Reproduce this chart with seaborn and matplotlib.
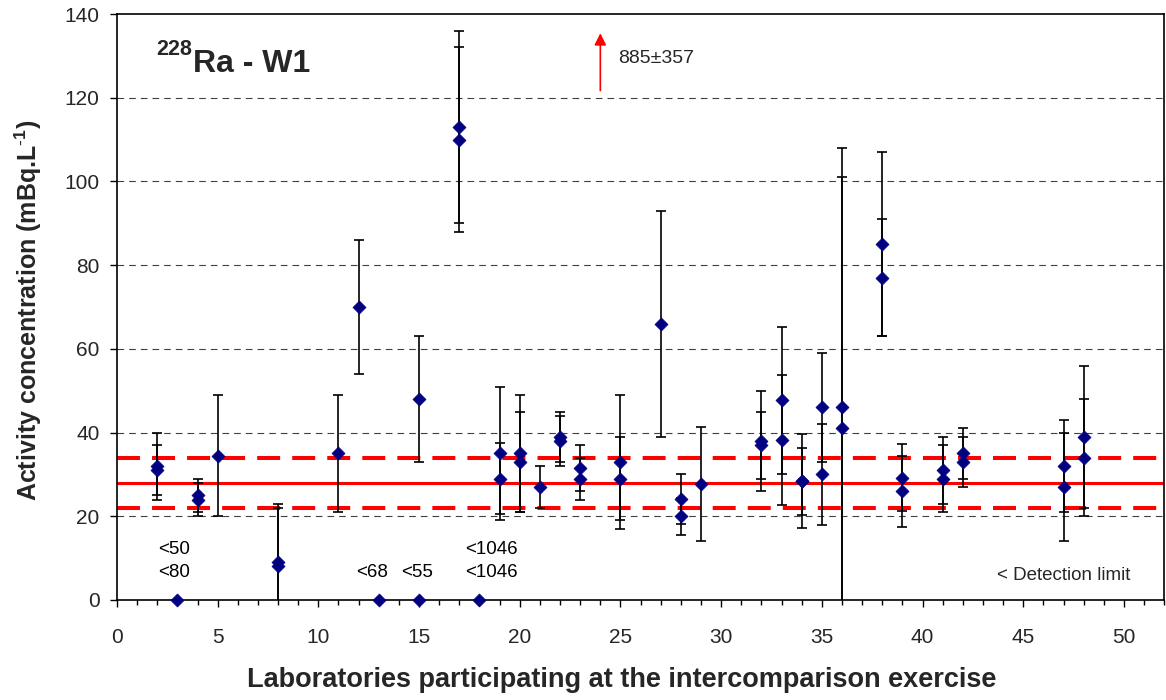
import matplotlib
matplotlib.use("Agg")
import matplotlib.pyplot as plt
from matplotlib.ticker import MultipleLocator
import numpy as np
import pandas as pd
import seaborn as sns

# ---------------- data ----------------
labs = [2, 2, 4, 4, 5, 8, 8, 11, 12, 15, 17, 17, 19, 19, 20, 20, 21, 22, 22, 23, 23,
        25, 25, 27, 28, 28, 29, 32, 32, 33, 33, 34, 34, 35, 35, 36, 36, 38, 38, 39, 39,
        41, 41, 42, 42, 47, 47, 48, 48]
values = [32, 31, 25, 24, 34.5, 9, 8, 35, 70, 48, 113, 110, 35, 29, 35, 33, 27, 39, 38,
          31.5, 29, 33, 29, 66, 24.2, 20, 27.7, 38, 37, 47.7, 38.2, 28.4, 28.4, 46, 30,
          46, 41, 85, 77, 29.2, 26, 31, 29, 35, 33, 32, 27, 39, 34]
errors = [8, 6, 4, 4, 14.5, 14, 14, 14, 16, 15, 23, 22, 16, 8.5, 14, 12, 5, 6, 6, 5.5, 5,
          16, 10, 27, 6, 4.4, 13.6, 12, 8, 17.6, 15.5, 11.3, 8, 13, 12, 62, 60, 22, 14,
          8, 8.5, 8, 8, 6, 6, 11, 13, 17, 14]

# labs reporting values below detection limit (plotted at 0)
dl_labs = [3, 13, 15, 18]
dl_values = [0, 0, 0, 0]
dl_texts = ["<50\n<80", "<68", "<55", "<1046\n<1046"]
dl_text_x = [2.86, 12.67, 14.9, 18.58]

ref_value = 28
ref_low = 22
ref_high = 34

outlier_lab = 24
outlier_text = "885\u00b1357"

x_ticks = list(range(0, 51, 5))
y_ticks = list(range(0, 141, 20))

df = pd.DataFrame({"lab": labs, "value": values, "err": errors})
df_dl = pd.DataFrame({"lab": dl_labs, "value": dl_values})

# ---------------- style ----------------
sns.set_style("white")
plt.rcParams["font.family"] = ["Liberation Sans", "DejaVu Sans"]
plt.rcParams["mathtext.fontset"] = "custom"
plt.rcParams["mathtext.rm"] = "Liberation Sans"
plt.rcParams["mathtext.bf"] = "Liberation Sans:bold"

fig, ax = plt.subplots(figsize=(11.66, 7), dpi=100)
fig.subplots_adjust(left=0.1003, right=0.9985, bottom=0.1429, top=0.98)

ax.set_xlim(0, 52)
ax.set_ylim(0, 140)

# grid
for yv in y_ticks[1:-1]:
    ax.axhline(yv, color="#404040", lw=0.8, linestyle=(0, (6, 4.5)), zorder=1)

# reference lines
ax.axhline(ref_value, color="#ff0000", lw=2.2, zorder=2)
ax.axhline(ref_high, color="#ff0000", lw=2.9, linestyle=(0, (5.7, 3.0)), zorder=2)
ax.axhline(ref_low, color="#ff0000", lw=2.9, linestyle=(0, (5.7, 3.0)), zorder=2)

# error bars
ax.errorbar(df["lab"], df["value"], yerr=df["err"], fmt="none", ecolor="black",
            elinewidth=1.2, capsize=3.6, capthick=1.2, zorder=3)

# points
sns.scatterplot(data=df, x="lab", y="value", marker="D", s=44, color="#000080",
                edgecolor="#000080", linewidth=0.5, zorder=4, ax=ax, legend=False)
sns.scatterplot(data=df_dl, x="lab", y="value", marker="D", s=44, color="#000080",
                edgecolor="#000080", linewidth=0.5, zorder=5, ax=ax, legend=False,
                clip_on=False)

# detection limit labels
for tx, t in zip(dl_text_x, dl_texts):
    ax.text(tx, 5.6, t, ha="center", va="baseline", fontsize=13.5,
            linespacing=1.4, color="black")

ax.text(50.33, 4.8, "< Detection limit", ha="right", va="baseline", fontsize=13.5)

# outlier arrow
ax.annotate("", xy=(outlier_lab, 135.4), xytext=(outlier_lab, 121.7),
            arrowprops=dict(arrowstyle="-|>,head_length=0.7,head_width=0.35",
                            color="#ff0000", lw=1.2, mutation_scale=10,
                            shrinkA=0, shrinkB=0))
ax.text(24.87, 129.4, outlier_text, ha="left", va="center", fontsize=14)

# title
ax.text(1.97, 130.2, "228", ha="left", va="baseline", fontsize=15.5, fontweight="bold")
ax.text(3.78, 126.2, "Ra - W1", ha="left", va="baseline", fontsize=23, fontweight="bold")

# axes, ticks
ax.set_xticks(x_ticks)
ax.set_yticks(y_ticks)
ax.xaxis.set_minor_locator(MultipleLocator(1))
ax.tick_params(axis="x", which="major", direction="out", length=5, width=1,
               labelsize=15, pad=15, bottom=True, top=False, color="black")
ax.tick_params(axis="x", which="minor", direction="out", length=3.5, width=1,
               bottom=True, top=False, color="black")
ax.tick_params(axis="y", which="major", direction="out", length=5, width=1,
               labelsize=15, pad=7.5, left=True, right=False, color="black")

for sp in ax.spines.values():
    sp.set_visible(True)
    sp.set_color("black")
    sp.set_linewidth(1.2)

ax.set_xlabel("Laboratories participating at the intercomparison exercise",
              fontsize=19.5, fontweight="bold")
ax.set_ylabel("Activity concentration (mBq.L$^{\\mathbf{\\text{-}1}}$)", fontsize=18,
              fontweight="bold")
ax.xaxis.set_label_coords(0.482, -0.115)
ax.yaxis.set_label_coords(-0.07, 0.495)

fig.savefig("out.png", dpi=100)
